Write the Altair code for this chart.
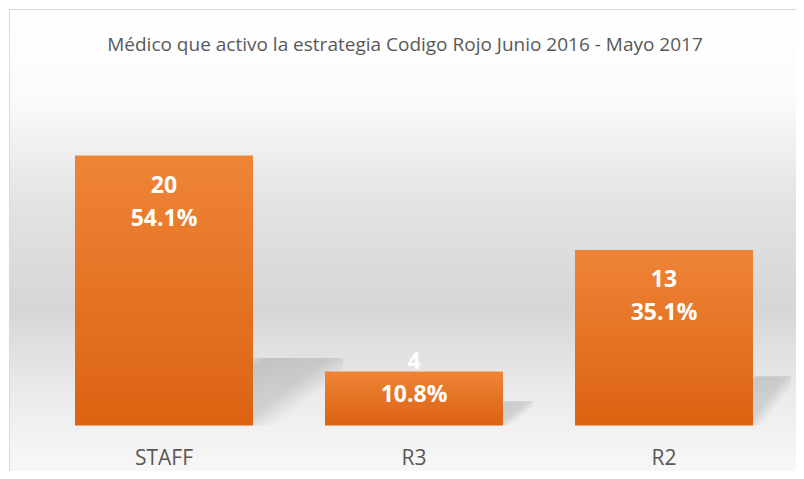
import altair as alt
import pandas as pd

categories = ["STAFF", "R3", "R2"]
counts = [20, 4, 13]
percent_labels = ["54.1%", "10.8%", "35.1%"]
title_text = "Médico que activo la estrategia Codigo Rojo Junio 2016 - Mayo 2017"

df = pd.DataFrame({"cat": categories, "count": counts, "pct": percent_labels})

W, H = 750, 337.5
PL, PT, PR, PB = 31, 80, 7, 45.5
FONT = "Open Sans"
GREY = "#595959"

# decorative shadow styling per category: (width px, height fraction of bar)
shadow_style = {"STAFF": (90, 0.25), "R3": (30, 0.45), "R2": (38, 0.28)}

x = alt.X(
    "cat:N",
    sort=categories,
    axis=alt.Axis(title=None, domain=False, ticks=False, labelAngle=0,
                  labelFontSize=21, labelColor=GREY, labelFont=FONT,
                  labelBaseline="middle", labelPadding=33, zindex=2),
    scale=alt.Scale(paddingInner=0.288, paddingOuter=0.144),
)
yscale = alt.Scale(domain=[0, 25])

bg = alt.Chart(pd.DataFrame({"k": [0]})).mark_rect(
    color=alt.Gradient(
        gradient="linear", x1=0, y1=0, x2=0, y2=1,
        stops=[
            alt.GradientStop(offset=0, color="#ffffff"),
            alt.GradientStop(offset=0.18, color="#fbfbfb"),
            alt.GradientStop(offset=0.4, color="#e3e3e3"),
            alt.GradientStop(offset=0.62, color="#d6d6d6"),
            alt.GradientStop(offset=0.8, color="#ebebeb"),
            alt.GradientStop(offset=1, color="#fbfbfb"),
        ],
    ),
    stroke="#d9d9d9",
    strokeWidth=1,
).encode(
    x=alt.value(-PL + 1.5), x2=alt.value(W + PR + 20),
    y=alt.value(-PT + 1.5), y2=alt.value(H + PB + 20),
)

title = alt.Chart(pd.DataFrame({"t": [title_text]})).mark_text(
    font=FONT, fontSize=19, color=GREY, baseline="middle", align="center"
).encode(text="t:N", x=alt.value(366), y=alt.value(-43))

base = alt.Chart(df)

shadows = []
for cat, (sw, frac) in shadow_style.items():
    shadows.append(
        base.transform_filter(alt.datum.cat == cat)
        .transform_calculate(st=f"datum.count * {frac}")
        .mark_bar(
            width=sw, xOffset=89 + sw / 2,
            color=alt.Gradient(
                gradient="linear", x1=0, y1=0, x2=1, y2=1,
                stops=[
                    alt.GradientStop(offset=0, color="rgba(0,0,0,0.07)"),
                    alt.GradientStop(offset=0.08, color="rgba(0,0,0,0.14)"),
                    alt.GradientStop(offset=0.42, color="rgba(0,0,0,0.12)"),
                    alt.GradientStop(offset=0.62, color="rgba(0,0,0,0)"),
                ],
            ),
        )
        .encode(x=x, y=alt.Y("st:Q", scale=yscale, axis=None), y2=alt.datum(0))
    )

bars = base.mark_bar(
    color=alt.Gradient(
        gradient="linear", x1=0, y1=0, x2=0, y2=1,
        stops=[
            alt.GradientStop(offset=0, color="#ef8437"),
            alt.GradientStop(offset=1, color="#db6312"),
        ],
    )
).encode(x=x, y=alt.Y("count:Q", scale=yscale, axis=None))

lab = base.transform_calculate(lp="max(datum.count, 6.9)")
t1 = lab.mark_text(dy=30, color="white", fontSize=23, fontWeight="bold",
                   font=FONT, baseline="middle").encode(
    x=x, y=alt.Y("lp:Q", scale=yscale, axis=None), text="count:Q")
t2 = lab.mark_text(dy=63, color="white", fontSize=23, fontWeight="bold",
                   font=FONT, baseline="middle").encode(
    x=x, y=alt.Y("lp:Q", scale=yscale, axis=None), text="pct:N")

chart = alt.layer(bg, title, *shadows, bars, t1, t2).properties(
    width=W, height=H,
    autosize=alt.AutoSizeParams(type="none"),
    padding={"left": PL, "top": PT, "right": PR, "bottom": PB},
).configure_view(strokeWidth=0).configure(background="white")

chart.save("out.html", embed_options={"renderer": "svg", "actions": False})
